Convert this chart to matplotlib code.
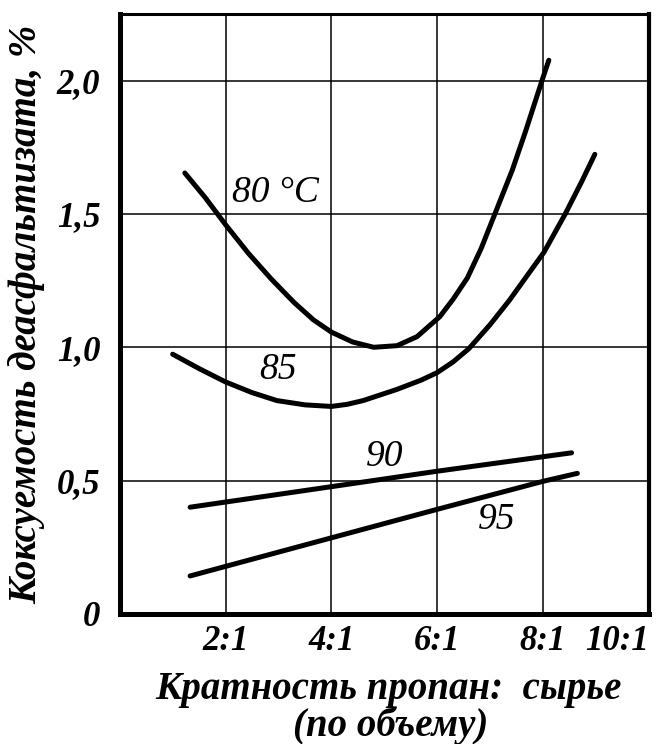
import numpy as np
import matplotlib
matplotlib.use('Agg')
import matplotlib.pyplot as plt

# Данные
x80 = [1.23, 1.61, 2.0, 2.43, 2.86, 3.29, 3.66, 4.0, 4.4, 4.8, 5.24, 5.62,
       6.05, 6.3, 6.57, 6.83, 7.09, 7.42, 7.67, 7.98, 8.11]
y80 = [1.654, 1.563, 1.46, 1.353, 1.257, 1.169, 1.103, 1.057, 1.02, 1.0,
       1.006, 1.04, 1.115, 1.18, 1.26, 1.37, 1.5, 1.665, 1.81, 2.0, 2.077]

x85 = [1.0, 1.5, 2.0, 2.5, 2.97, 3.5, 4.0, 4.3, 4.6, 5.24, 5.7, 6.0, 6.3,
       6.6, 7.0, 7.36, 8.02, 8.42, 8.74, 8.98]
y85 = [0.974, 0.92, 0.87, 0.83, 0.80, 0.784, 0.778, 0.786, 0.80, 0.842,
       0.877, 0.905, 0.945, 0.995, 1.085, 1.175, 1.357, 1.5, 1.625, 1.724]

x90 = [1.33, 4.0, 6.0, 8.54]
y90 = [0.40, 0.477, 0.535, 0.604]

x95 = [1.33, 4.0, 6.0, 8.0, 8.65]
y95 = [0.142, 0.285, 0.392, 0.497, 0.527]

xticks = [2, 4, 6, 8, 10]
xlabels = ['2:1', '4:1', '6:1', '8:1', '10:1']
yticks = [0, 0.5, 1.0, 1.5, 2.0]
ylabels = ['0', '0,5', '1,0', '1,5', '2,0']

# подписи кривых
curve_labels = ['80 °C', '85', '90', '95']
label_x = [2.13, 2.99, 5.0, 7.13]
label_y = [1.578, 0.914, 0.59, 0.354]

serif = ['Liberation Serif', 'DejaVu Serif']

fig = plt.figure(figsize=(6.58, 7.44), dpi=100)
ax = fig.add_axes([0.182, 0.175, 0.804, 0.806])

for xs, ys in [(x80, y80), (x85, y85), (x90, y90), (x95, y95)]:
    ax.plot(xs, ys, color='black', lw=3.6, solid_capstyle='round',
            solid_joinstyle='round', zorder=3)

ax.set_xlim(0, 10)
ax.set_ylim(0, 2.25)
ax.set_xticks(xticks)
ax.set_xticklabels(xlabels)
ax.set_yticks(yticks)
ax.set_yticklabels(ylabels)
ax.grid(True, color='black', lw=1.1)
ax.tick_params(length=0)
ax.tick_params(axis='x', pad=8)
ax.tick_params(axis='y', pad=14)

for lab in ax.get_xticklabels() + ax.get_yticklabels():
    lab.set_family(serif)
    lab.set_style('italic')
    lab.set_weight('bold')
    lab.set_fontsize(25)
ax.get_xticklabels()[-1].set_horizontalalignment('right')

ax.spines['left'].set_linewidth(3.6)
ax.spines['bottom'].set_linewidth(3.6)
ax.spines['right'].set_linewidth(3.0)
ax.spines['top'].set_linewidth(2.2)

for t, tx, ty, ha in zip(curve_labels, label_x, label_y, ['left', 'center', 'center', 'center']):
    ax.text(tx, ty, t, family=serif, style='italic', fontsize=27,
            ha=ha, va='center')

# подпись оси X в две строки
fig.text(0.59, 1 - 690 / 744, 'Кратность пропан:  сырье', family=serif,
         style='italic', weight='bold', fontsize=28, ha='center', va='center')
fig.text(0.593, 1 - 726 / 744, '(по объему)', family=serif,
         style='italic', weight='bold', fontsize=28, ha='center', va='center')
ax.set_ylabel('Коксуемость деасфальтизата, %', family=serif,
              style='italic', weight='bold', fontsize=28, labelpad=8)

fig.savefig('out.png', dpi=100)
